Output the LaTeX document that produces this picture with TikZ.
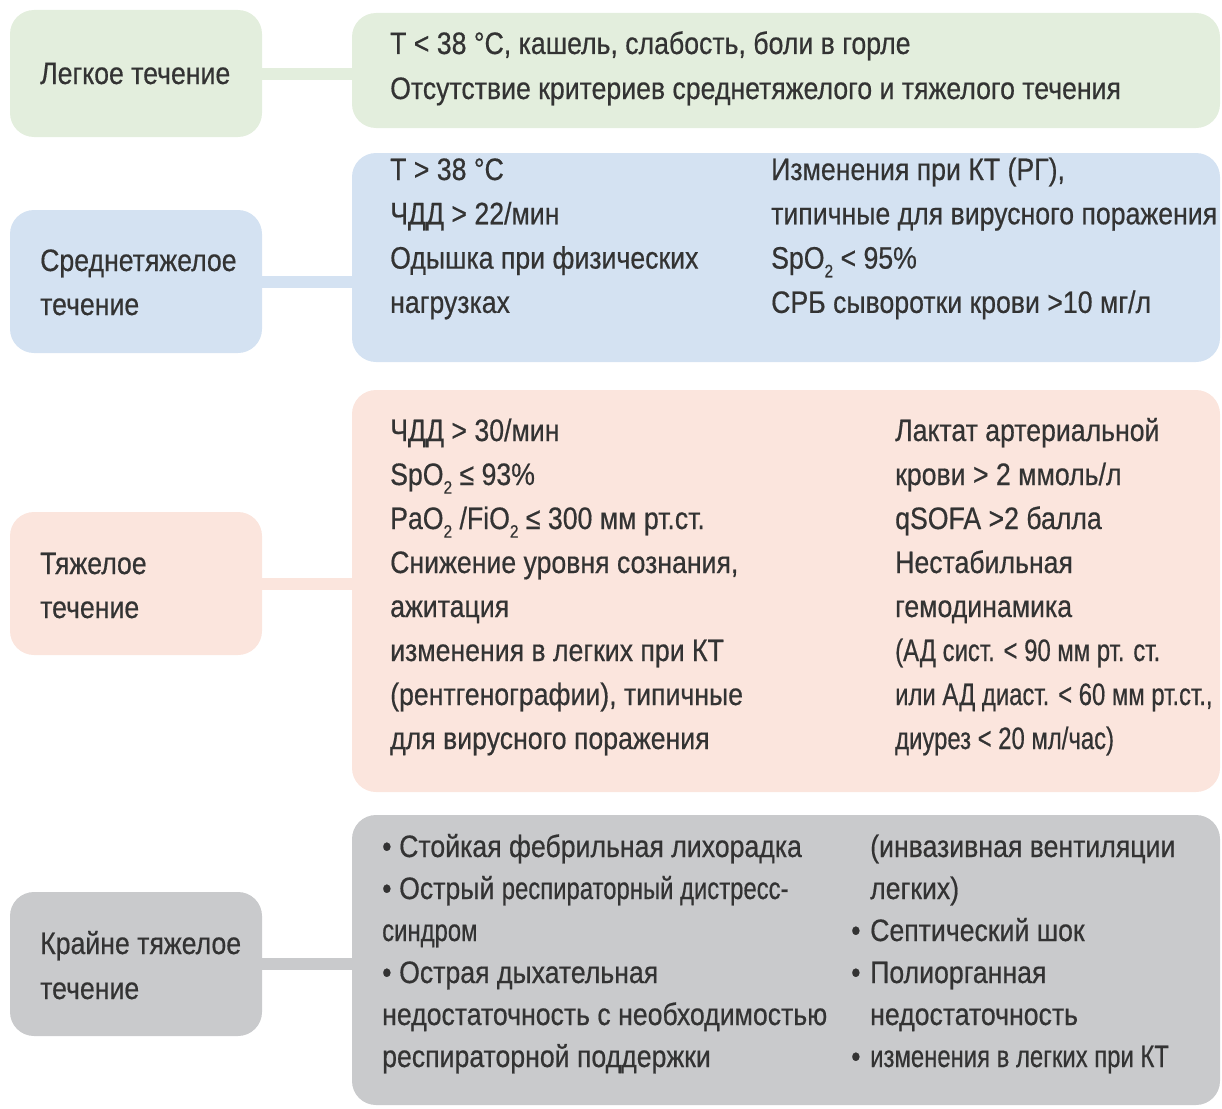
\documentclass[tikz,border=0pt]{standalone}
\usepackage{fontspec}
\setmainfont{Liberation Sans}[FakeStretch=0.86,FakeBold=0.5]
\newfontfamily\narrowf{Liberation Sans}[FakeStretch=0.77,FakeBold=0.5]
\newcommand{\subt}[1]{\raisebox{-0.28em}{\fontsize{18}{18}\selectfont #1}}
\newcommand{\nrw}[1]{{\narrowf #1}}
\definecolor{gfill}{HTML}{E3EEDD}
\definecolor{bfill}{HTML}{D4E2F2}
\definecolor{pfill}{HTML}{FBE5DD}
\definecolor{kfill}{HTML}{C9CACC}
\definecolor{textc}{HTML}{333333}
\tikzset{
  box/.style={rectangle, rounded corners=24pt, inner sep=0pt, draw=none},
  lab/.style={box, minimum width=252pt},
  bar/.style={line width=12pt},
  txt/.style={anchor=base west, inner sep=0pt, text=textc, font=\fontsize{31}{44}\selectfont},
}
\begin{document}
\begin{tikzpicture}[x=1pt,y=-1pt]
\useasboundingbox (0,0) rectangle (1222,1108);
% label boxes
\node[lab, fill=gfill, minimum height=127pt] (l1) at (136,73.5) {};
\node[lab, fill=bfill, minimum height=143pt] (l2) at (136,281.5) {};
\node[lab, fill=pfill, minimum height=143pt] (l3) at (136,583.5) {};
\node[lab, fill=kfill, minimum height=144pt] (l4) at (136,964) {};
\node[txt] (t1) at (40,84) {Легкое течение};
\node[txt] (t2a) at (40,271) {Среднетяжелое};
\node[txt] (t2b) at (40,315) {течение};
\node[txt] (t3a) at (40,574) {Тяжелое};
\node[txt] (t3b) at (40,618) {течение};
\node[txt] (t4a) at (40,954) {Крайне тяжелое};
\node[txt] (t4b) at (40,999) {течение};
% content boxes
\node[box, fill=gfill, minimum width=868pt, minimum height=115pt] (c1) at (786,70.5) {};
\node[box, fill=bfill, minimum width=868pt, minimum height=209pt] (c2) at (786,257.5) {};
\node[box, fill=pfill, minimum width=868pt, minimum height=402pt] (c3) at (786,591) {};
\node[box, fill=kfill, minimum width=868pt, minimum height=290pt] (c4) at (786,960) {};
% connectors
\draw[bar, draw=gfill] (l1.east) -- (l1.east -| c1.west);
\draw[bar, draw=bfill] (l2.east) -- (l2.east -| c2.west);
\draw[bar, draw=pfill] (l3.east) -- (l3.east -| c3.west);
\draw[bar, draw=kfill] (l4.east) -- (l4.east -| c4.west);
% green texts
\foreach \t [count=\i from 0] in {{T < 38 °C, кашель, слабость, боли в горле},
  {Отсутствие критериев среднетяжелого и тяжелого течения}}
  \node[txt] (g\i) at (390,54+45*\i) {\t};
% blue texts
\foreach \t [count=\i from 0] in {{T > 38 °C},{ЧДД > 22/мин},{Одышка при физических},{нагрузках}}
  \node[txt] (bl\i) at (390,180+44.3*\i) {\t};
\foreach \t [count=\i from 0] in {{Изменения при КТ (РГ),},{типичные для вирусного поражения},
  {SpO\subt{2} < 95\%},{СРБ сыворотки крови >10 мг/л}}
  \node[txt] (br\i) at (771,180+44.3*\i) {\t};
% pink texts
\foreach \t [count=\i from 0] in {{ЧДД > 30/мин},{SpO\subt{2} ≤ 93\%},
  {PaO\subt{2} /FiO\subt{2} ≤ 300 мм рт.ст.},{Снижение уровня сознания,},{ажитация},
  {изменения в легких при КТ},{(рентгенографии), типичные},{для вирусного поражения}}
  \node[txt] (pl\i) at (390,441+44*\i) {\t};
\foreach \t [count=\i from 0] in {{Лактат артериальной},{крови > 2 ммоль/л},{qSOFA >2 балла},
  {Нестабильная},{гемодинамика},{\nrw{(АД сист. < 90 мм рт. ст.}},
  {\nrw{или АД диаст. < 60 мм рт.ст.,}},{\nrw{диурез < 20 мл/час)}}}
  \node[txt] (pr\i) at (895,441+44*\i) {\t};
% gray texts
\foreach \t [count=\i from 0] in {{\makebox[17pt][l]{•}Стойкая фебрильная лихорадка},
  {\makebox[17pt][l]{•}Острый \nrw{респираторный дистресс-}},{\nrw{синдром}},
  {\makebox[17pt][l]{•}Острая дыхательная},{недостаточность с необходимостью},
  {респираторной поддержки}}
  \node[txt] (kl\i) at (382,857+42*\i) {\t};
\foreach \t [count=\i from 0] in {{(инвазивная вентиляции},{легких)},{Септический шок},
  {Полиорганная},{недостаточность},{\nrw{изменения в легких при КТ}}}
  \node[txt] (kr\i) at (870,857+42*\i) {\t};
\foreach \i in {2,3,5}
  \node[txt] (kb\i) at (851,857+42*\i) {•};
\end{tikzpicture}
\end{document}
